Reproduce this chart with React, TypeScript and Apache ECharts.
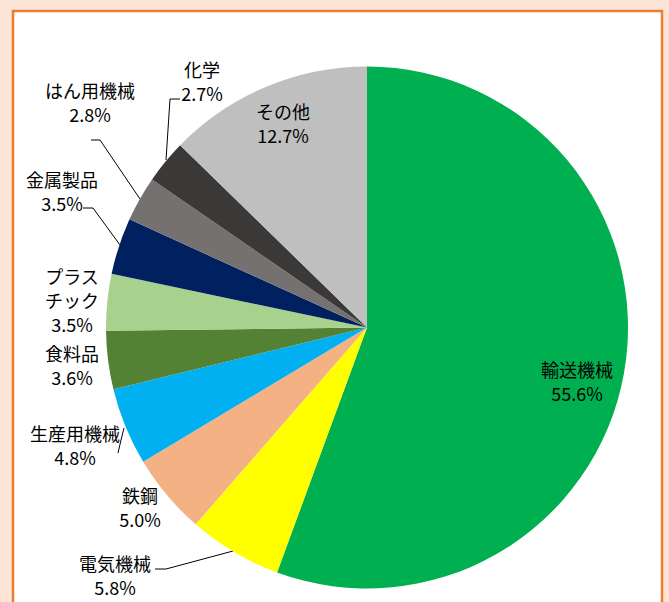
import React, { useEffect, useRef } from "react";
import * as echarts from "echarts";

const categories = ["輸送機械", "電気機械", "鉄鋼", "生産用機械", "食料品", "プラスチック", "金属製品", "はん用機械", "化学", "その他"];
const shares = [55.6, 5.8, 5.0, 4.8, 3.6, 3.5, 3.5, 2.8, 2.7, 12.7];
const colors = ["#00b050", "#ffff00", "#f4b183", "#00b0f0", "#548235", "#a9d18e", "#002060", "#767171", "#3b3838", "#bfbfbf"];

// label layout (centre of text block) and leader-line points, by slice index
const labelPos: [number, number][] = [
  [577, 381], [115, 575], [140, 507], [75, 445], [72, 365],
  [72, 300], [62, 191], [90, 102], [202, 81], [283, 123],
];
const leader: ([number, number][] | null)[] = [
  null,
  [[233, 551], [166, 569], [155, 569]],
  null,
  [[124, 428], [121, 440], [118, 453]],
  null,
  null,
  [[120, 245], [93, 208], [83, 208]],
  [[140, 199], [100, 140], [91, 140]],
  [[166, 160], [170, 99], [180, 99]],
  null,
];

export default function App() {
  const ref = useRef<HTMLDivElement>(null);
  useEffect(() => {
    const chart = echarts.init(ref.current!, null, { renderer: "svg" });
    chart.setOption({
      animation: false,
      backgroundColor: "#fce4d6",
      graphic: [
        {
          type: "rect",
          z: -10,
          shape: { x: 13, y: 11, width: 649, height: 620 },
          style: { fill: "#ffffff", stroke: "#ed7d31", lineWidth: 2.5 },
        },
      ],
      series: [
        {
          type: "pie",
          center: [367, 327.5],
          radius: 261,
          startAngle: 90,
          clockwise: true,
          avoidLabelOverlap: false,
          itemStyle: { borderWidth: 0 },
          label: {
            show: true,
            position: "outside",
            color: "#000000",
            fontFamily: "Noto Sans CJK JP",
            fontSize: 18,
            lineHeight: 24,
            align: "center",
            formatter: (p: any) =>
              (p.name === "プラスチック" ? "プラス\nチック" : p.name) + "\n" + Number(p.value).toFixed(1) + "%",
          },
          labelLine: { show: true, lineStyle: { color: "#000000", width: 1 }, smooth: false },
          labelLayout: (params: any) => {
            const i = params.dataIndex;
            const out: any = {
              x: labelPos[i][0],
              y: labelPos[i][1],
              align: "center",
              verticalAlign: "middle",
            };
            if (leader[i]) out.labelLinePoints = leader[i];
            return out;
          },
          data: categories.map((name, i) => ({
            name,
            value: shares[i],
            itemStyle: { color: colors[i] },
            labelLine: { show: !!leader[i] },
          })),
        },
      ],
    });
    return () => chart.dispose();
  }, []);
  return (
    <div
      ref={ref}
      style={{ position: "absolute", left: 0, top: 0, width: 669, height: 602 }}
    />
  );
}
